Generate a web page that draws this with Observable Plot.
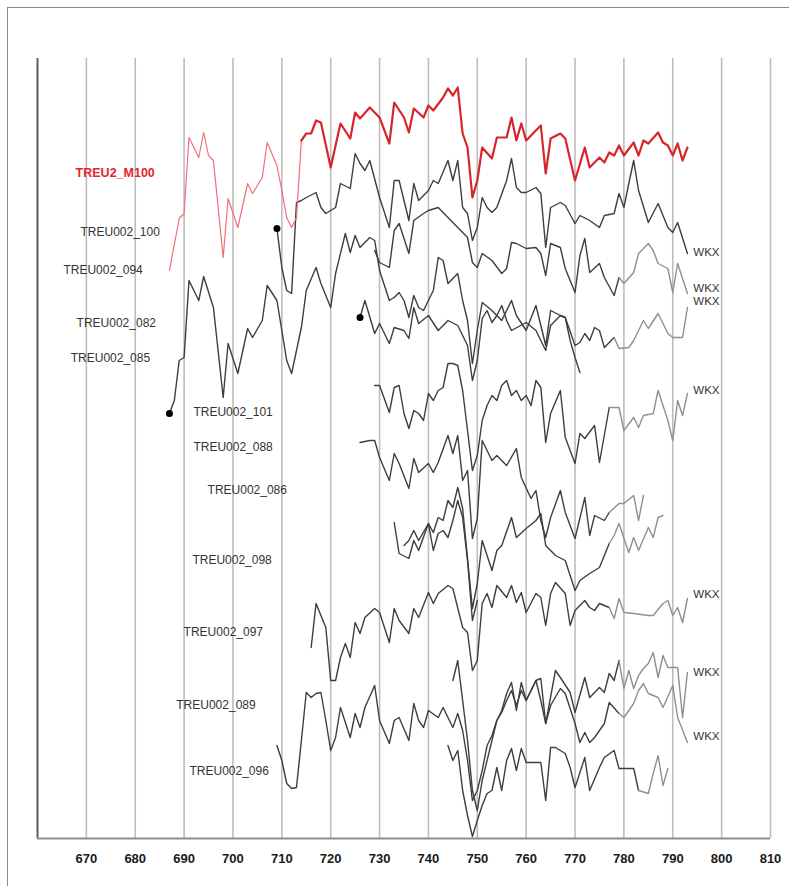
<!DOCTYPE html>
<html><head><meta charset="utf-8">
<script src="https://cdn.jsdelivr.net/npm/d3@7"></script>
<script src="https://cdn.jsdelivr.net/npm/@observablehq/plot@0.6"></script>
<style>
html,body{margin:0;padding:0;background:#fff;}
#wrap{position:relative;width:789px;height:886px;overflow:hidden;}
#frame{position:absolute;left:7px;top:7px;width:800px;height:900px;border-top:1.5px solid #8a8a8a;border-left:1.5px solid #8a8a8a;pointer-events:none;z-index:2;}
</style></head><body>
<div id="wrap"><div id="frame"></div><div id="chart"></div></div>
<script>
// ---- data: [year, ring-width index (offset per series)] ----
const tickYears = [670,680,690,700,710,720,730,740,750,760,770,780,790,800,810];

const redM100 = [[687,568],[689,620],[690,625],[691,701],[693,681],[694,706],[695,683],[696,678],[698,581],[699,640],[701,611],[703,655],[704,645],[706,661],[707,696],[709,673],[710,648],[711,621],[712,611],[713,621],[714,698],[715,705],[716,705],[717,718],[718,716],[720,671],[722,715],[724,700],[725,726],[726,720],[728,731],[730,721],[732,695],[733,736],[735,721],[736,706],[737,730],[739,721],[740,733],[741,728],[743,741],[744,750],[745,743],[746,751],[747,705],[748,691],[749,641],[750,658],[751,691],[753,680],[754,701],[756,701],[757,721],[758,698],[759,715],[760,698],[763,713],[764,665],[765,700],[767,705],[768,700],[770,658],[772,691],[773,671],[775,681],[776,676],[777,686],[778,683],[779,693],[780,683],[782,696],[783,683],[784,698],[785,695],[787,706],[788,696],[789,693],[790,683],[791,695],[792,678],[793,691]];

const s100 = [[709,610],[710,571],[711,548],[712,545],[713,636],[714,638],[715,641],[717,646],[718,631],[719,625],[721,631],[722,655],[724,650],[725,685],[726,675],[727,668],[728,678],[730,641],[732,611],[733,658],[734,658],[736,618],[737,655],[738,638],[740,648],[741,658],[742,655],[744,678],[745,658],[746,678],[747,631],[748,625],[749,598],[750,611],[751,641],[752,631],[753,626],[754,631],[756,658],[757,680],[758,651],[759,646],[760,646],[762,651],[763,645],[764,591],[765,631],[767,636],[768,633],[770,615],[771,623],[773,618],[775,611],[776,623],[778,625],[779,645],[780,631],[781,655],[782,678],[783,648],[785,616],[787,635],[789,611],[790,606],[791,616],[793,585]];

const s085 = [[687,425],[688,438],[689,478],[690,481],[691,558],[693,538],[694,562],[696,531],[698,441],[699,495],[701,465],[703,510],[704,501],[706,518],[707,553],[709,538],[710,508],[711,478],[712,465],[714,511],[715,548],[717,571],[718,555],[720,531],[721,565],[723,605],[724,586],[725,603],[726,591],[728,601],[729,598],[730,568],[732,538],[733,541],[734,546],[735,538],[736,521],[737,543],[738,531],[739,528],[741,548],[742,581],[743,578],[744,555],[746,565],[747,538],[748,518],[749,475],[750,508],[751,536],[753,528],[755,518],[757,538],[758,523],[760,508],[762,533],[764,493],[765,528],[767,523],[768,521],[769,498],[770,481],[771,466]];

const s094 = [[729,588],[730,576],[732,571],[733,608],[734,615],[736,585],[737,618],[739,625],[740,628],[742,631],[744,621],[746,611],[748,601],[749,576],[750,571],[751,585],[753,578],[755,565],[756,570],[757,596],[758,595],[760,590],[762,591],[763,585],[764,563],[765,595],[767,591],[768,570],[770,546],[771,583],[772,600],[773,566],[775,575],[776,561],[778,543],[779,561],[780,555],[782,566],[783,585],[785,595],[786,588],[787,575],[789,570],[790,546],[791,575],[793,545]];

const s082 = [[726,521],[727,538],[729,505],[730,515],[732,495],[733,511],[735,508],[736,500],[737,531],[738,515],[740,523],[742,508],[744,518],[746,513],[748,493],[749,458],[750,478],[751,520],[752,528],[753,516],[754,523],[755,533],[756,518],[757,508],[760,516],[762,508],[764,488],[765,513],[767,523],[768,521],[770,493],[771,496],[772,505],[773,498],[774,511],[775,508],[776,491],[778,501],[779,490],[781,491],[782,498],[784,518],[785,510],[787,525],[789,505],[790,501],[792,501],[793,531]];

const s101 = [[729,453],[730,453],[732,426],[733,451],[734,453],[735,425],[736,410],[737,428],[738,425],[739,418],[740,445],[741,438],[742,448],[743,451],[744,475],[745,475],[746,473],[747,448],[748,408],[749,368],[750,383],[751,418],[752,433],[753,443],[754,438],[755,453],[756,458],[757,443],[758,448],[759,438],[760,443],[761,433],[762,458],[763,451],[764,396],[765,425],[767,448],[768,401],[770,375],[771,405],[772,400],[774,413],[775,376],[777,431],[779,431],[780,408],[782,421],[783,411],[784,423],[786,425],[787,448],[789,418],[790,398],[791,438],[792,423],[793,445]];

const s088 = [[726,396],[728,398],[729,398],[730,381],[732,358],[733,385],[734,375],[736,350],[737,380],[738,366],[740,375],[741,366],[742,376],[744,403],[745,385],[746,403],[747,358],[748,368],[749,300],[750,320],[751,398],[753,378],[754,383],[756,373],[758,390],[759,361],[761,340],[762,348],[763,318],[764,301],[765,321],[767,348],[768,326],[770,300],[772,341],[773,303],[774,323],[776,318],[777,326],[779,335],[780,335],[782,343],[783,318],[784,343]];

const s086 = [[733,316],[734,285],[736,280],[737,298],[738,288],[740,315],[741,306],[742,321],[743,318],[744,338],[745,331],[746,351],[747,330],[748,280],[749,230],[750,255],[751,298],[753,268],[754,288],[755,293],[757,321],[758,301],[760,310],[762,318],[763,325],[764,293],[766,283],[768,278],[770,248],[771,258],[773,265],[775,271],[777,295],[778,303],[779,315],[781,286],[782,301],[783,288],[785,311],[786,301],[787,321],[788,323]];

const s098 = [[735,293],[736,298],[737,308],[738,298],[740,315],[741,288],[742,305],[743,308],[744,301],[745,318],[746,338],[747,321],[748,278],[749,218],[750,238]];

const s097 = [[716,191],[717,235],[719,211],[720,158],[721,158],[722,181],[723,195],[724,181],[725,216],[726,205],[727,221],[729,230],[730,226],[732,196],[733,230],[734,218],[736,205],[737,230],[738,221],[740,246],[741,235],[742,245],[744,253],[745,250],[747,211],[748,206],[749,168],[750,178],[751,235],[752,245],[753,231],[754,253],[756,241],[757,253],[758,236],[759,246],[760,226],[762,245],[763,241],[764,213],[765,245],[766,256],[768,245],[769,213],[770,228],[772,238],[773,231],[774,228],[775,235],[777,231],[778,220],[779,240],[780,226],[782,225],[785,223],[786,223],[788,235],[789,238],[790,223],[791,231],[792,216],[793,240]];

const s089 = [[745,158],[746,178],[747,138],[748,98],[749,48],[750,28],[751,58],[752,78],[753,98],[754,118],[755,128],[756,145],[757,156],[758,128],[759,156],[760,138],[762,158],[763,160],[764,115],[766,168],[767,161],[769,146],[770,126],[772,161],[773,141],[775,151],[776,146],[777,165],[778,158],[779,178],[780,150],[781,168],[782,150],[783,163],[784,170],[785,175],[786,186],[787,161],[788,183],[789,171],[790,171],[791,171],[792,121],[793,166]];

const s096 = [[709,93],[710,78],[711,55],[712,50],[713,51],[714,98],[715,146],[716,141],[717,145],[718,146],[719,118],[720,88],[721,101],[722,131],[724,101],[725,125],[726,111],[727,131],[729,153],[730,118],[732,95],[733,118],[734,121],[736,98],[737,135],[738,118],[739,111],[740,128],[742,121],[743,131],[744,121],[745,111],[746,125],[747,108],[748,78],[749,38],[750,48],[751,68],[752,93],[753,103],[754,118],[755,126],[756,138],[757,148],[758,133],[759,148],[760,138],[761,148],[762,158],[763,138],[764,115],[765,133],[767,150],[768,145],[770,115],[771,96],[772,106],[773,96],[774,101],[776,115],[777,136],[779,125],[780,121],[782,135],[783,148],[784,155],[785,145],[787,141],[788,131],[790,153],[791,121],[793,96]];

const sBottom = [[744,93],[745,78],[746,88],[747,48],[748,23],[749,2],[750,18],[751,33],[752,45],[753,48],[754,71],[755,48],[756,78],[757,90],[758,68],[759,90],[760,76],[762,76],[763,76],[764,38],[765,91],[766,91],[768,85],[769,71],[770,51],[772,81],[773,48],[775,71],[776,81],[778,88],[779,70],[781,70],[782,70],[783,48],[785,45],[786,65],[787,83],[788,53],[789,70]];

const labelNames = ["TREU002_100","TREU002_094","TREU002_082","TREU002_085","TREU002_101","TREU002_088","TREU002_086","TREU002_098","TREU002_097","TREU002_089","TREU002_096"];
const labelYears = [668.8,665.3,668.0,666.8,691.9,691.9,694.8,691.7,689.9,688.4,691.1];
const labelValues = [606,568,515,480,426,391,348,278,206,133,67];
const redLabel = {text:"TREU2_M100", year:667.8, value:666};
const wkxValues = [586,550,537,448,244,166,102];
const wkxYear = 794.2;

// ---- build tables ----
const blackSeries = {s100, s085, s094, s082, s101, s088, s086, s098, s097, s089, s096, sBottom};
const fadeFrom = {s094:779, s082:777, s101:777, s088:777, s086:777, s097:776, s089:779, s096:779, sBottom:783};
const dotted = ["s085","s100","s082"];

const dark = [], light = [];
for (const [name, pairs] of Object.entries(blackSeries)) {
  const f = fadeFrom[name];
  let idx = pairs.length - 1;
  if (f !== undefined) idx = pairs.findIndex(p => p[0] >= f);
  pairs.slice(0, idx + 1).forEach(([year, value]) => dark.push({series:name, year, value}));
  if (f !== undefined) pairs.slice(idx).forEach(([year, value]) => light.push({series:name, year, value}));
}
const redRows = redM100.map(([year, value]) => ({year, value}));
const redThin = redRows.filter(d => d.year <= 714);
const redThick = redRows.filter(d => d.year >= 714);
const dots = dotted.map(n => ({year: blackSeries[n][0][0], value: blackSeries[n][0][1]}));
const labels = labelNames.map((t, i) => ({text:t, year:labelYears[i], value:labelValues[i]}));
const wkx = wkxValues.map(v => ({text:"WKX", year:wkxYear, value:v}));

const chart = Plot.plot({
  width: 789, height: 886,
  marginLeft: 37, marginRight: 19, marginTop: 58, marginBottom: 48,
  style: {fontFamily: "'Liberation Sans', Arial, sans-serif", background: "#fff"},
  x: {domain: [660, 810], axis: null},
  y: {domain: [0, 780], axis: null},
  marks: [
    Plot.ruleX(tickYears, {stroke: "#bdbdbd", strokeWidth: 1.6}),
    Plot.ruleX([660], {stroke: "#5c5c5c", strokeWidth: 2}),
    Plot.ruleY([0], {stroke: "#8e8e8e", strokeWidth: 2}),
    Plot.axisX(tickYears, {anchor: "bottom", label: null, tickSize: 0, tickPadding: 15, tickFormat: d => String(d), fontSize: 13, fontWeight: "bold", fill: "#1a1a1a"}),
    Plot.line(dark, {x: "year", y: "value", z: "series", stroke: "#3e3e3e", strokeWidth: 1.4}),
    Plot.line(light, {x: "year", y: "value", z: "series", stroke: "#8f8f8f", strokeWidth: 1.4}),
    Plot.line(redThin, {x: "year", y: "value", stroke: "#ef6f78", strokeWidth: 1.2}),
    Plot.line(redThick, {x: "year", y: "value", stroke: "#d6262c", strokeWidth: 2.2}),
    Plot.dot(dots, {x: "year", y: "value", r: 3.5, fill: "#000", stroke: "none"}),
    Plot.text(labels, {x: "year", y: "value", text: "text", textAnchor: "start", fontSize: 12, fill: "#333"}),
    Plot.text([redLabel], {x: "year", y: "value", text: "text", textAnchor: "start", fontSize: 12.5, fontWeight: "bold", fill: "#e3262b"}),
    Plot.text(wkx, {x: "year", y: "value", text: "text", textAnchor: "start", fontSize: 11.5, fill: "#333"})
  ]
});
document.getElementById("chart").appendChild(chart);
</script>
</body></html>
